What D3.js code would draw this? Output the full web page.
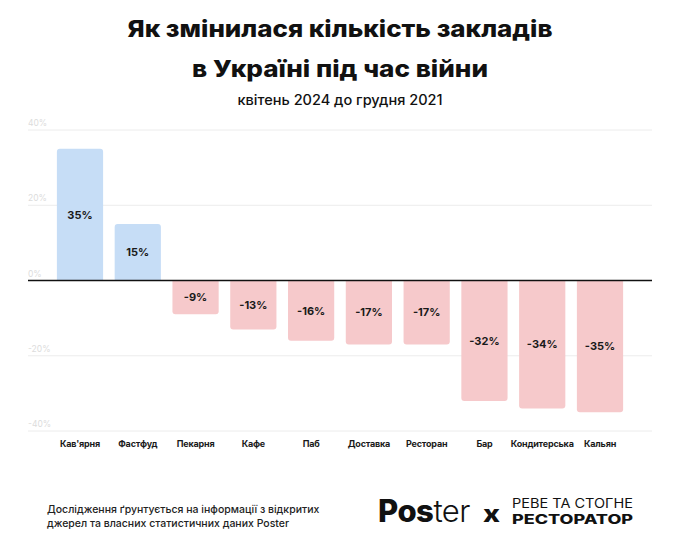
<!DOCTYPE html>
<html><head><meta charset="utf-8">
<script src="https://cdn.jsdelivr.net/npm/d3@7"></script>
<style>
html,body{margin:0;padding:0;background:#fff;}
svg{display:block;font-family:Inter,"Noto Sans",sans-serif;}
</style></head>
<body><svg id="chart" width="680" height="540"></svg>
<script>
const categories = ["Кав'ярня","Фастфуд","Пекарня","Кафе","Паб","Доставка","Ресторан","Бар","Кондитерська","Кальян"];
const values = [35,15,-9,-13,-16,-17,-17,-32,-34,-35];
const yTicks = [40,20,0,-20,-40];
const titleLines = ["Як змінилася кількість закладів","в Україні під час війни"];
const subtitle = "квітень 2024 до грудня 2021";
const footnoteLines = ["Дослідження ґрунтується на інформації з відкритих","джерел та власних статистичних даних Poster"];

const svg = d3.select("#chart");
const x = d3.scaleBand().domain(categories).range([28,652]).paddingInner(0.2).paddingOuter(0.5);
const y = d3.scaleLinear().domain([-40,40]).range([431,130]);

// title
const titleWidths = [425, 296];
svg.append("g").selectAll("text").data(titleLines).join("text")
  .attr("x",340).attr("y",(d,i)=>37+i*40).attr("text-anchor","middle")
  .attr("font-size",23).attr("font-weight",800).attr("fill","#111")
  .attr("textLength",(d,i)=>titleWidths[i]).attr("lengthAdjust","spacingAndGlyphs")
  .text(d=>d);
svg.append("text").attr("x",340).attr("y",105).attr("text-anchor","middle")
  .attr("font-size",14).attr("font-weight",500).attr("fill","#111")
  .attr("textLength",205).attr("lengthAdjust","spacingAndGlyphs").text(subtitle);

// grid
const grid = svg.append("g");
grid.selectAll("line").data(yTicks.filter(t=>t!==0)).join("line")
  .attr("x1",28).attr("x2",652).attr("y1",d=>y(d)).attr("y2",d=>y(d))
  .attr("stroke","#ececec").attr("stroke-width",1);
grid.selectAll("text").data(yTicks).join("text")
  .attr("x",28).attr("y",d=>y(d)-4).attr("font-size",8.5).attr("fill","#dcdcdc")
  .text(d=>d+"%");

// bars
const r = 3;
function barPath(d){
  const x0 = x(d.c), w = x.bandwidth(), y0 = y(0), y1 = y(d.v);
  if (d.v >= 0) {
    return `M${x0},${y0}V${y1+r}Q${x0},${y1} ${x0+r},${y1}H${x0+w-r}Q${x0+w},${y1} ${x0+w},${y1+r}V${y0}Z`;
  } else {
    return `M${x0},${y0}V${y1-r}Q${x0},${y1} ${x0+r},${y1}H${x0+w-r}Q${x0+w},${y1} ${x0+w},${y1-r}V${y0}Z`;
  }
}
const data = categories.map((c,i)=>({c, v: values[i]}));
svg.append("g").selectAll("path").data(data).join("path")
  .attr("d",barPath).attr("fill",d=>d.v>=0?"#c6ddf6":"#f6c9cb");

// zero line
svg.append("line").attr("x1",28).attr("x2",652).attr("y1",y(0)).attr("y2",y(0))
  .attr("stroke","#111").attr("stroke-width",1.5);

// value labels
svg.append("g").selectAll("text").data(data).join("text")
  .attr("x",d=>x(d.c)+x.bandwidth()/2).attr("y",d=>(y(0)+y(d.v))/2+4)
  .attr("text-anchor","middle").attr("font-size",11).attr("font-weight",700).attr("fill","#1a1a1a")
  .text(d=>d.v + "%");

// x axis labels
const xAxis = d3.axisBottom(x).tickSize(0).tickPadding(0);
const gx = svg.append("g").attr("transform","translate(0,441)").call(xAxis);
gx.select(".domain").remove();
gx.selectAll("text").attr("font-size",9).attr("font-weight",700).attr("fill","#1a1a1a")
  .attr("letter-spacing",-0.2).attr("font-family","Inter, sans-serif");

// footnote
svg.append("g").selectAll("text").data(footnoteLines).join("text")
  .attr("x",47).attr("y",(d,i)=>513+i*14).attr("font-size",10.5).attr("font-weight",500).attr("fill","#222")
  .text(d=>d);

// logo
const logo = svg.append("g");
const pt = logo.append("text").attr("x",378).attr("y",522).attr("font-size",31).attr("fill","#111").attr("letter-spacing",-0.5);
pt.append("tspan").attr("font-weight",800).text("Pos");
pt.append("tspan").attr("font-weight",300).text("ter");
logo.append("text").attr("x",483).attr("y",522).attr("font-size",24).attr("font-weight",800).attr("fill","#111")
  .attr("textLength",17).attr("lengthAdjust","spacingAndGlyphs").text("x");
logo.append("text").attr("x",512).attr("y",507.5).attr("font-size",12.5).attr("font-weight",400).attr("fill","#111").attr("textLength",121).attr("lengthAdjust","spacingAndGlyphs").text("РЕВЕ ТА СТОГНЕ");
logo.append("text").attr("x",512).attr("y",523.5).attr("font-size",13).attr("font-weight",800).attr("fill","#111").attr("textLength",121).attr("lengthAdjust","spacingAndGlyphs").text("РЕСТОРАТОР");
</script></body></html>
